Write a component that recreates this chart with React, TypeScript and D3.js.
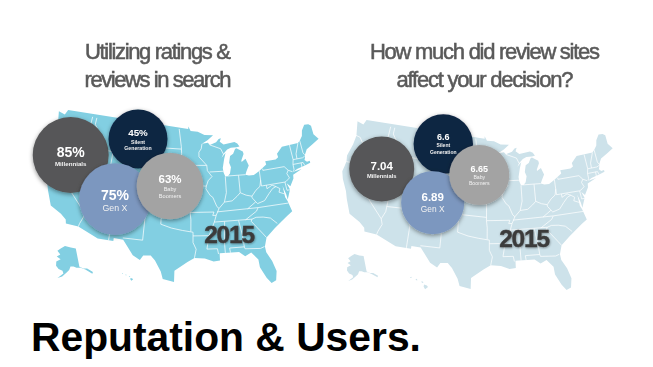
import React from "react";
import * as d3 from "d3";

type Pt = [number, number];

const generations = ["Millennials", "Silent|Generation", "Gen X", "Baby|Boomers"];
const usageValues = [85, 45, 75, 63];
const usageLabels = ["85%", "45%", "75%", "63%"];
const ratingValues = [7.04, 6.6, 6.89, 6.65];
const ratingLabels = ["7.04", "6.6", "6.89", "6.65"];
const titleLeft = ["Utilizing ratings &", "reviews in search"];
const titleRight = ["How much did review sites", "affect your decision?"];
const yearLabel = "2015";
const footer = "Reputation & Users.";

const colors = ["#565758", "#0f2543", "#7c97bf", "#a3a3a3"];

const conus: Pt[] = [[-124.7,48.4],[-123.2,48.2],[-122.8,49],[-95.15,49],[-95.15,49.4],[-94.6,48.7],[-93,48.6],[-91.5,48.1],[-89.6,48],[-90.8,47.3],[-92.1,46.75],[-90.8,46.9],[-90.4,46.55],[-89,46.9],[-88.4,47.4],[-87.9,47.47],[-88.2,46.95],[-87.4,46.5],[-85,46.75],[-84.4,46.5],[-84,46],[-84.7,45.95],[-85.9,45.95],[-86.7,45.7],[-87.6,45.1],[-88,44.55],[-87.1,45.25],[-87.5,44.3],[-87.9,43],[-87.8,42.3],[-87.5,41.7],[-87,41.7],[-86.5,42.1],[-86.2,43],[-86.5,43.7],[-86.2,44.7],[-85.5,45],[-85,45.7],[-84.7,45.78],[-83.4,45.2],[-83.3,44.8],[-83.9,43.9],[-83.9,43.65],[-83,44.07],[-82.5,43],[-83.1,42.2],[-83.4,41.7],[-82.7,41.5],[-81.7,41.5],[-80.5,42],[-78.9,42.8],[-79,43.3],[-76.8,43.3],[-76.2,43.55],[-76.3,44.1],[-75,45],[-71.5,45],[-71,45.3],[-70.3,45.9],[-70,46.7],[-69.2,47.45],[-68.3,47.35],[-67.8,47.05],[-67.8,45.7],[-67,44.85],[-68.5,44.3],[-70,43.8],[-70.7,43],[-70.8,42.6],[-71,42.3],[-70.6,41.95],[-70,42],[-70,41.7],[-71.2,41.5],[-72.9,41.25],[-73.7,40.95],[-72,41.1],[-73.9,40.55],[-74,40],[-74.9,38.95],[-75.5,39.5],[-75.1,38.5],[-75.9,37.1],[-76,37.9],[-76.4,39.2],[-76.3,37.5],[-76,36.9],[-75.5,35.25],[-76.6,34.7],[-78,33.9],[-79.2,33.2],[-80.9,32],[-81.4,30.7],[-81.3,29.8],[-80.5,28.4],[-80,26.8],[-80.3,25.4],[-81.1,25.1],[-81.8,26],[-82.7,27.7],[-82.8,28.9],[-83.9,30.05],[-85,29.6],[-86,30.3],[-88,30.3],[-89.4,30.3],[-89.4,29.2],[-90.5,29.1],[-92,29.6],[-93.8,29.7],[-95,29.1],[-97.2,27.7],[-97.2,26],[-99.1,26.4],[-99.5,27.5],[-100.6,29.1],[-101.4,29.8],[-102.7,29.7],[-103.2,29],[-104.5,29.6],[-106.5,31.75],[-108.2,31.78],[-108.2,31.33],[-111,31.33],[-114.8,32.5],[-117.1,32.53],[-117.3,33.1],[-118.4,33.75],[-120.6,34.55],[-121.9,36.6],[-122.5,37.7],[-123.8,39.3],[-124.4,40.4],[-124.2,42],[-124.5,42.9],[-124,44.8],[-123.9,46.2]];

const borders: Pt[][] = [
[[-124,46.25],[-123,46.15],[-122.3,45.55],[-121,45.65],[-119,45.95],[-116.9,46]],
[[-117.03,49],[-117.03,46.4],[-116.9,46],[-116.5,45.5],[-117,44.3],[-117.03,42]],
[[-124.2,42],[-111.05,42]],
[[-116.05,49],[-116.05,48],[-114.5,46.6],[-114.5,45.6],[-113.5,45.1],[-113,44.5],[-111.05,44.5]],
[[-111.05,45],[-104.05,45]],
[[-111.05,45],[-111.05,41],[-102.05,41],[-102.05,37]],
[[-104.05,49],[-104.05,41]],
[[-120,42],[-120,39],[-114.6,35],[-114.2,34.2],[-114.7,33],[-114.8,32.5]],
[[-114.6,35],[-114.05,36.2],[-114.05,42]],
[[-114.05,37],[-94.6,37]],
[[-109.05,41],[-109.05,31.33]],
[[-104.05,43],[-98.5,43],[-97.5,42.85],[-96.5,42.5]],
[[-102.05,40],[-95.3,40]],
[[-104.05,45.95],[-96.6,45.95]],
[[-97.2,49],[-96.6,46.3],[-96.5,45.3],[-96.45,43.5],[-96.5,42.5],[-96,41.5],[-95.8,40.6],[-95.3,40],[-94.9,39.4],[-94.6,39.1],[-94.6,36.5],[-94.45,35.4],[-94.45,33.65]],
[[-103,37],[-103,36.5],[-100,36.5],[-100,34.6],[-98,34.1],[-96,33.8],[-94.05,33.55],[-94.05,32],[-93.5,31],[-93.8,29.7]],
[[-103,36.5],[-103.05,32],[-106.6,32]],
[[-94.05,33],[-91.15,33]],
[[-94.6,36.5],[-90.1,36.5],[-90.35,36],[-89.7,36]],
[[-96.45,43.5],[-91.2,43.5]],
[[-92.1,46.75],[-92.3,46],[-92.8,45.5],[-92.8,44.8],[-91.2,43.5],[-91.1,42.7],[-90.2,41.8],[-91,41.2],[-91.4,40.4],[-91.5,40],[-90.7,39],[-90.2,38.7],[-89.5,37.3],[-89.1,37],[-89.7,36],[-90.1,35],[-91.15,33],[-91.6,31],[-89.75,31],[-89.6,30.2]],
[[-95.8,40.6],[-91.4,40.4]],
[[-90.65,42.5],[-87.8,42.5]],
[[-90.4,46.55],[-88.1,45.9],[-87.6,45.1]],
[[-87.5,41.7],[-87.5,39.3],[-88,37.9]],
[[-89.1,37],[-88,37.9],[-86.5,38],[-85.5,38.6],[-84.8,39.1],[-83.7,38.65],[-82.6,38.4],[-81.7,39.2],[-80.8,39.7],[-80.5,40.6]],
[[-84.8,41.7],[-84.8,39.1]],
[[-87,41.75],[-83.4,41.7]],
[[-80.5,42],[-80.5,39.72],[-75.8,39.72],[-75.5,39.8]],
[[-79.76,42.25],[-79.76,42],[-75.35,42],[-74.7,41.35],[-75.1,40.9],[-74.75,40.2],[-75.5,39.8]],
[[-74.7,41.35],[-73.9,41]],
[[-75.8,39.72],[-75.7,38.46],[-75.05,38.45]],
[[-79.5,39.72],[-79.5,39.2],[-78.4,39.6],[-77.7,39.3],[-77,38.9],[-77.3,38.4],[-76.3,38]],
[[-77.7,39.3],[-78.4,39.1],[-79.3,38.4],[-80.3,37.5],[-81.7,37.2],[-82,37.5],[-82.6,38.15],[-82.6,38.4]],
[[-82,37.5],[-83.7,36.6]],
[[-75.9,36.55],[-81.7,36.6],[-89.5,36.5]],
[[-81.7,36.6],[-82.1,36.1],[-84.3,35]],
[[-90.1,35],[-83.1,35]],
[[-83.1,35],[-82.3,35.2],[-81,35.1],[-79.7,34.8],[-78.6,33.85]],
[[-83.1,35],[-83.3,34.7],[-81.4,32.6],[-80.9,32]],
[[-85.6,35],[-85.15,32.8],[-85,31],[-84.9,30.7],[-82.2,30.5],[-81.5,30.7]],
[[-85,31],[-87.6,31],[-87.5,30.3]],
[[-88.2,35],[-88.45,31.9],[-88.4,30.3]],
[[-73.35,45],[-73.25,42.75],[-73.5,42.05],[-73.5,41.3],[-73.7,41]],
[[-71.5,45],[-72.4,43.5],[-72.45,42.73]],
[[-71,45.3],[-70.95,43.4],[-70.7,43.05]],
[[-73.25,42.75],[-71.3,42.7],[-70.8,42.85]],
[[-73.5,42.05],[-71.4,42],[-71.2,41.5]],
[[-71.8,42.02],[-71.85,41.3]],
];

const alaska: Pt[] = [[-141,69.6],[-148,70.4],[-156.5,71.3],[-162,70],[-166.5,68.4],[-162,66.8],[-166,65.5],[-161,64.5],[-165.5,63],[-165,61],[-162,59.5],[-158,58.8],[-157,57.5],[-162,55],[-158,56],[-154,58],[-151.5,59.3],[-150,61],[-147,60.8],[-144,60],[-140,59.7],[-136,58.2],[-131,55.2],[-130,55.9],[-134,58.5],[-137.5,59],[-141,60.3]];
const hawaii: Pt[][] = [
[[-155.9,20.2],[-155.1,19.9],[-154.8,19.5],[-155.6,18.95],[-156,19.6]],
[[-156.7,21],[-156.3,20.95],[-156,20.75],[-156.4,20.6]],
[[-158.25,21.55],[-157.95,21.7],[-157.7,21.3],[-158.1,21.3]],
[[-159.8,22.1],[-159.4,22.2],[-159.35,21.95],[-159.6,21.9]],
];

const toPath = (proj: d3.GeoProjection, closed: boolean) =>
  d3.line<Pt>().x((p) => proj(p)![0]).y((p) => proj(p)![1]).curve(closed ? d3.curveLinearClosed : d3.curveLinear);

function USMap({ box, ak, hi, fill }: { box: [Pt, Pt]; ak: [Pt, Pt]; hi: [Pt, Pt]; fill: string }) {
  const main = d3.geoAlbers().rotate([94, 0]).fitExtent(box, { type: "MultiPoint", coordinates: conus } as any);
  const akProj = d3.geoConicEqualArea().rotate([154, 0]).center([-2, 58.5]).parallels([55, 65])
    .fitExtent(ak, { type: "MultiPoint", coordinates: alaska } as any);
  const hiProj = d3.geoConicEqualArea().rotate([157, 0]).center([-3, 19.9]).parallels([8, 18])
    .fitExtent(hi, { type: "MultiPoint", coordinates: hawaii.flat() } as any);
  return (
    <g>
      <path d={toPath(main, true)(conus)!} fill={fill} />
      {borders.map((b, i) => (
        <path key={i} d={toPath(main, false)(b)!} fill="none" stroke="#fff" strokeWidth={0.8} strokeOpacity={0.9} />
      ))}
      <path d={toPath(akProj, true)(alaska)!} fill={fill} />
      {hawaii.map((h, i) => (
        <path key={i} d={toPath(hiProj, true)(h)!} fill={fill} />
      ))}
    </g>
  );
}

type TextLayout = { value: number; valueY: number; nameY: number[]; name: number; weight: string };

const leftText: TextLayout[] = [
  { value: 14, valueY: 2, nameY: [11], name: 6.2, weight: "bold" },
  { value: 9.8, valueY: -3, nameY: [4.5, 11], name: 5.2, weight: "bold" },
  { value: 14, valueY: 1, nameY: [12], name: 8.8, weight: "normal" },
  { value: 11.5, valueY: -3, nameY: [5, 12], name: 5.6, weight: "normal" },
];
const rightText: TextLayout[] = [
  { value: 11.5, valueY: 1, nameY: [9], name: 5.8, weight: "bold" },
  { value: 9, valueY: -4, nameY: [3, 9.5], name: 5, weight: "bold" },
  { value: 11.5, valueY: -1.7, nameY: [9], name: 8.4, weight: "normal" },
  { value: 9, valueY: -3, nameY: [3.5, 10], name: 5.2, weight: "normal" },
];

function Bubbles({ centers, values, labels, radius, layout }: {
  centers: Pt[]; values: number[]; labels: string[]; radius: d3.ScaleLinear<number, number>; layout: TextLayout[];
}) {
  return (
    <g>
      {values.map((v, i) => {
        const [cx, cy] = centers[i];
        const t = layout[i];
        const name = generations[i].split("|");
        return (
          <g key={i}>
            <circle cx={cx} cy={cy} r={radius(v)} fill={colors[i]} filter="url(#shadow)" />
            <text x={cx} y={cy + t.valueY} textAnchor="middle" fill="#fff" fontSize={t.value} fontWeight="bold"
              fontFamily="Liberation Sans">{labels[i]}</text>
            {name.map((n, k) => (
              <text key={k} x={cx} y={cy + t.nameY[k]} textAnchor="middle" fill="#f2f2f2"
                fontSize={t.name} fontWeight={t.weight} fontFamily="Liberation Sans">{n}</text>
            ))}
          </g>
        );
      })}
    </g>
  );
}

const leftRadius = d3.scaleLinear().domain([45, 85]).range([29.5, 38]);
const rightRadius = d3.scaleLinear().domain([6.6, 7.04]).range([29.7, 32.5]);

const leftCenters: Pt[] = [[70.7, 155], [138, 139], [115, 199], [170, 186]];
const rightCenters: Pt[] = [[381.7, 169], [443.3, 144], [432.7, 202.7], [479.3, 175]];

function Title({ lines, x, widths }: { lines: string[]; x: number; widths: number[] }) {
  return (
    <g fill="#5a5a5a" fontFamily="Liberation Sans" fontSize={22} textAnchor="middle" stroke="#5a5a5a" strokeWidth={0.55}>
      <text x={x} y={59} textLength={widths[0]} lengthAdjust="spacing">{lines[0]}</text>
      <text x={x} y={87} textLength={widths[1]} lengthAdjust="spacing">{lines[1]}</text>
    </g>
  );
}

function Year({ x, y }: { x: number; y: number }) {
  return (
    <text x={x} y={y} textAnchor="middle" fontFamily="Liberation Sans" fontWeight="bold" fontSize={24.5} letterSpacing={-1.2}
      fill="#3b3b3b" stroke="#3b3b3b" strokeWidth={0.4} filter="url(#textShadow)">{yearLabel}</text>
  );
}

export default function App() {
  return (
    <svg width={653} height={367} viewBox="0 0 653 367" style={{ position: "absolute", left: 0, top: 0, background: "#fff" }}>
      <defs>
        <filter id="shadow" x="-25%" y="-25%" width="150%" height="150%">
          <feDropShadow dx={0} dy={1.5} stdDeviation={2.2} floodColor="#000" floodOpacity={0.42} />
        </filter>
        <filter id="textShadow" x="-10%" y="-20%" width="120%" height="150%">
          <feDropShadow dx={0.5} dy={0.8} stdDeviation={0.8} floodColor="#000" floodOpacity={0.4} />
        </filter>
        <filter id="soft"><feGaussianBlur stdDeviation={0.35} /></filter>
      </defs>
      <g filter="url(#soft)">
        <Title lines={titleLeft} x={158} widths={[146, 147]} />
        <Title lines={titleRight} x={485} widths={[230, 177]} />
        <USMap box={[[43, 110], [319, 283]]} ak={[[53, 246], [96, 278]]} hi={[[122, 270], [133, 284]]} fill="#82cfe2" />
        <USMap box={[[341, 120], [614, 290]]} ak={[[347, 253], [378, 282]]} hi={[[410, 275], [428, 291]]} fill="#cde2ea" />
        <Bubbles centers={leftCenters} values={usageValues} labels={usageLabels} radius={leftRadius} layout={leftText} />
        <Bubbles centers={rightCenters} values={ratingValues} labels={ratingLabels} radius={rightRadius} layout={rightText} />
        <Year x={229} y={243} />
        <Year x={524} y={247} />
      </g>
      <text x={31} y={351} fontFamily="Liberation Sans" fontWeight="bold" fontSize={40.8} fill="#000">{footer}</text>
    </svg>
  );
}
